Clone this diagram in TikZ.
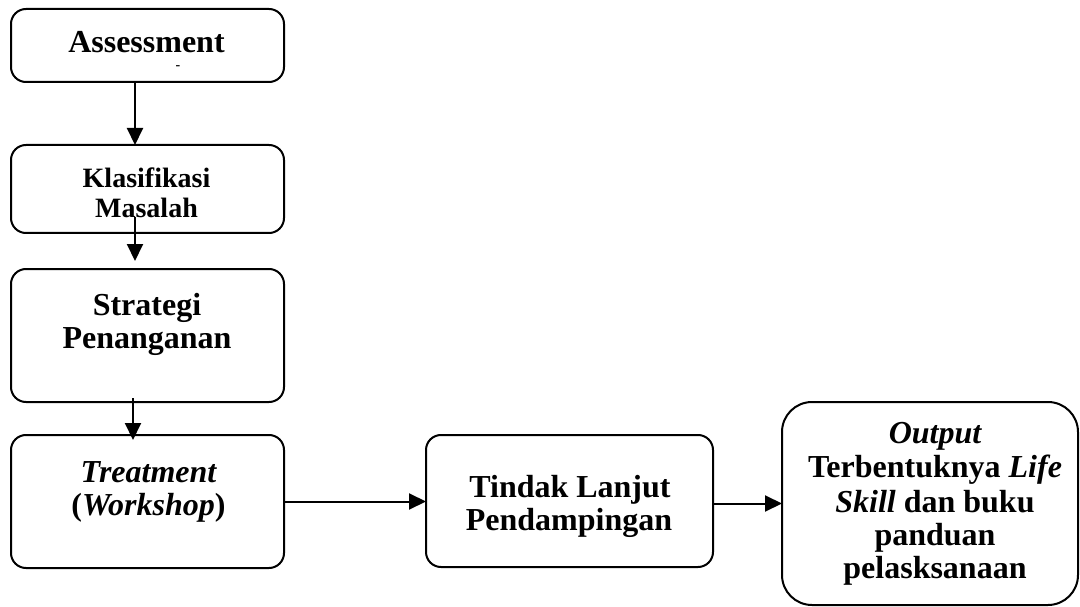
\documentclass[tikz,border=0pt]{standalone}
\usepackage{fontspec}
\setmainfont{Liberation Serif}
\usetikzlibrary{arrows.meta}
\tikzset{
  box/.style={draw, line width=2pt, rounded corners=15pt, inner sep=0pt, outer sep=0pt},
  bigbox/.style={box, rounded corners=30pt},
  arr/.style={line width=2pt, -{Triangle[length=17pt,width=16pt]}},
  txt/.style={anchor=base, inner sep=0pt, font=\fontsize{32}{35}\selectfont\bfseries},
  stxt/.style={anchor=base, inner sep=0pt, font=\fontsize{28}{30}\selectfont\bfseries}
}
\begin{document}
\begin{tikzpicture}[x=1pt,y=-1pt]
\useasboundingbox (0,0) rectangle (1080,607);
\clip (0,0) rectangle (1080,607);
% boxes
\node[box, minimum width=273pt, minimum height=73pt] (b1) at (147.5,45.5) {};
\node[box, minimum width=273pt, minimum height=88pt] (b2) at (147.5,189) {};
\node[box, minimum width=273pt, minimum height=133pt] (b3) at (147.5,335.5) {};
\node[box, minimum width=273pt, minimum height=133pt] (b4) at (147.5,501.5) {};
\node[box, minimum width=287pt, minimum height=132pt] (b5) at (569.5,501) {};
\node[bigbox, minimum width=296pt, minimum height=203pt] (b6) at (930,503.5) {};
% texts
\node[txt] (t1) at (146.5,53) {Assessment};
\node[anchor=base, inner sep=0pt, font=\fontsize{14}{14}\selectfont\bfseries] (t1b) at (178,70) {-};
\node[stxt] (t2a) at (146.5,188) {Klasifikasi};
\node[stxt] (t2b) at (146.5,218) {Masalah};
\node[txt] (t3a) at (147,315) {Strategi};
\node[txt] (t3b) at (147,348) {Penanganan};
\node[txt] (t4a) at (148.5,482) {\itshape Treatment};
\node[txt] (t4b) at (148.5,515) {(\textit{Workshop})};
\node[txt] (t5a) at (570,497) {Tindak Lanjut};
\node[txt] (t5b) at (569,530) {Pendampingan};
\node[txt] (t6a) at (935,443) {\itshape Output};
\node[txt] (t6b) at (935,477) {Terbentuknya \textit{Life}};
\node[txt] (t6c) at (935,512) {\textit{Skill} dan buku};
\node[txt] (t6d) at (935,545) {panduan};
\node[txt] (t6e) at (935,578) {pelasksanaan};
% connector helpers
\coordinate (c1) at (135,0);
\coordinate (a2s) at (135,217);
\coordinate (a2e) at (135,261);
\coordinate (a3s) at (133,398);
\coordinate (a3e) at (133,440);
% connectors
\draw[arr] (b1.south -| c1) -- (b2.north -| c1);
\draw[arr] (a2s) -- (a2e);
\draw[arr] (a3s) -- (a3e);
\draw[arr] (b4.east) -- (b4.east -| b5.west);
\draw[arr] (b5.east |- b6.west) -- (b6.west);
\end{tikzpicture}
\end{document}
